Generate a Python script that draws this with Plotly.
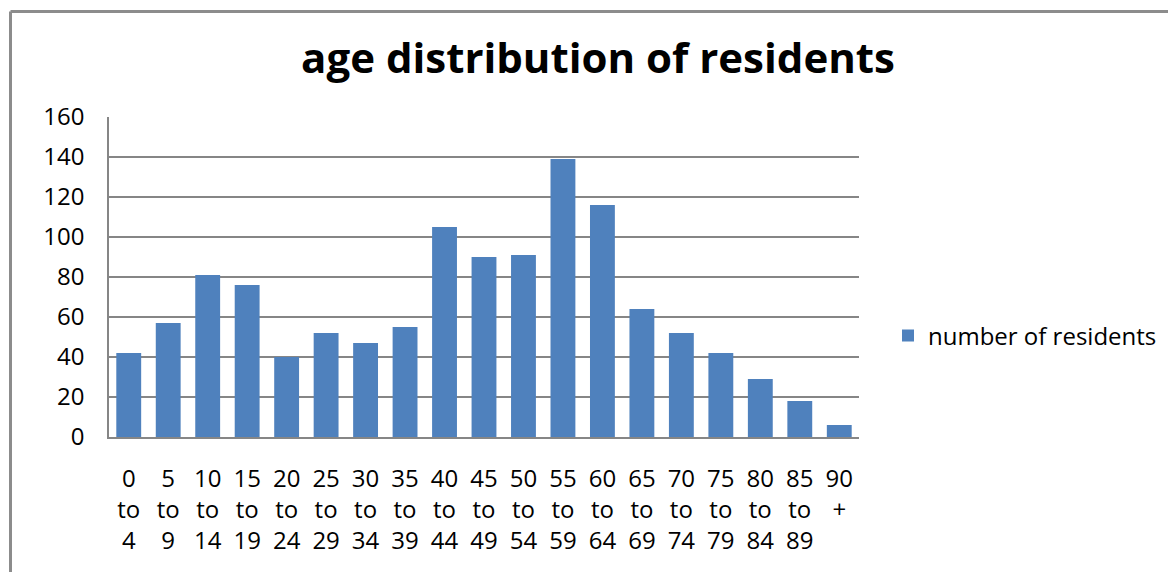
import plotly.graph_objects as go

lbl_top = ["0", "5", "10", "15", "20", "25", "30", "35", "40", "45",
           "50", "55", "60", "65", "70", "75", "80", "85", "90"]
lbl_mid = ["to"] * 18 + ["+"]
lbl_bottom = ["4", "9", "14", "19", "24", "29", "34", "39", "44", "49",
              "54", "59", "64", "69", "74", "79", "84", "89", ""]
residents = [42, 57, 81, 76, 40, 52, 47, 55, 105, 90, 91, 139, 116, 64, 52, 42, 29, 18, 6]
y_ticks = [0, 20, 40, 60, 80, 100, 120, 140, 160]

categories = ["<br>".join([p for p in (a, b, c) if p]) for a, b, c in zip(lbl_top, lbl_mid, lbl_bottom)]

# page has an 8px body margin, so the figure is laid out 8px smaller
W, H = 1168, 564
L, R, T, B = 101, 851, 109, 429
FONT = "Open Sans"

fig = go.Figure()
fig.add_trace(go.Bar(
    x=categories, y=residents, name="number of residents",
    marker=dict(color="#4F81BD", line=dict(width=0)),
))

fx = lambda px: (px - L) / (R - L)
fy = lambda py: (B - py) / (B - T)

fig.update_layout(
    width=W, height=H, autosize=False,
    margin=dict(l=L, r=W - R, t=T, b=H - B, pad=0),
    paper_bgcolor="white", plot_bgcolor="white",
    bargap=0.37,
    font=dict(family=FONT, size=24, color="#000000"),
    title=dict(text="<b>age distribution of residents</b>", x=590 / W, xanchor="center",
               xref="container", yref="container", y=1 - 50 / H, yanchor="middle",
               font=dict(family=FONT, size=42, color="#000000")),
    showlegend=True,
    legend=dict(x=fx(880), xanchor="left", y=fy(328), yanchor="middle",
                font=dict(family=FONT, size=24, color="#000000"), bgcolor="rgba(0,0,0,0)"),
    xaxis=dict(showgrid=False, showline=True, linecolor="#868686", linewidth=1.5,
               ticks="", tickfont=dict(family=FONT, size=24, color="#000000"),
               ticklabelstandoff=19, tickangle=0, fixedrange=True),
    yaxis=dict(range=[0, 160], tickvals=y_ticks, showgrid=True, gridcolor="#868686", gridwidth=1.5,
               showline=True, linecolor="#868686", linewidth=1.5, zeroline=False,
               ticks="", tickfont=dict(family=FONT, size=24, color="#000000"),
               ticklabelstandoff=18, fixedrange=True),
    shapes=[
        dict(type="line", xref="paper", yref="paper", x0=fx(2.5), x1=fx(W + 20),
             y0=fy(3.5), y1=fy(3.5), line=dict(color="#8c8c8c", width=3)),
        dict(type="line", xref="paper", yref="paper", x0=fx(2.5), x1=fx(2.5),
             y0=fy(3.5), y1=fy(H + 20), line=dict(color="#8c8c8c", width=3)),
    ],
)

fig.write_html("out.html")
